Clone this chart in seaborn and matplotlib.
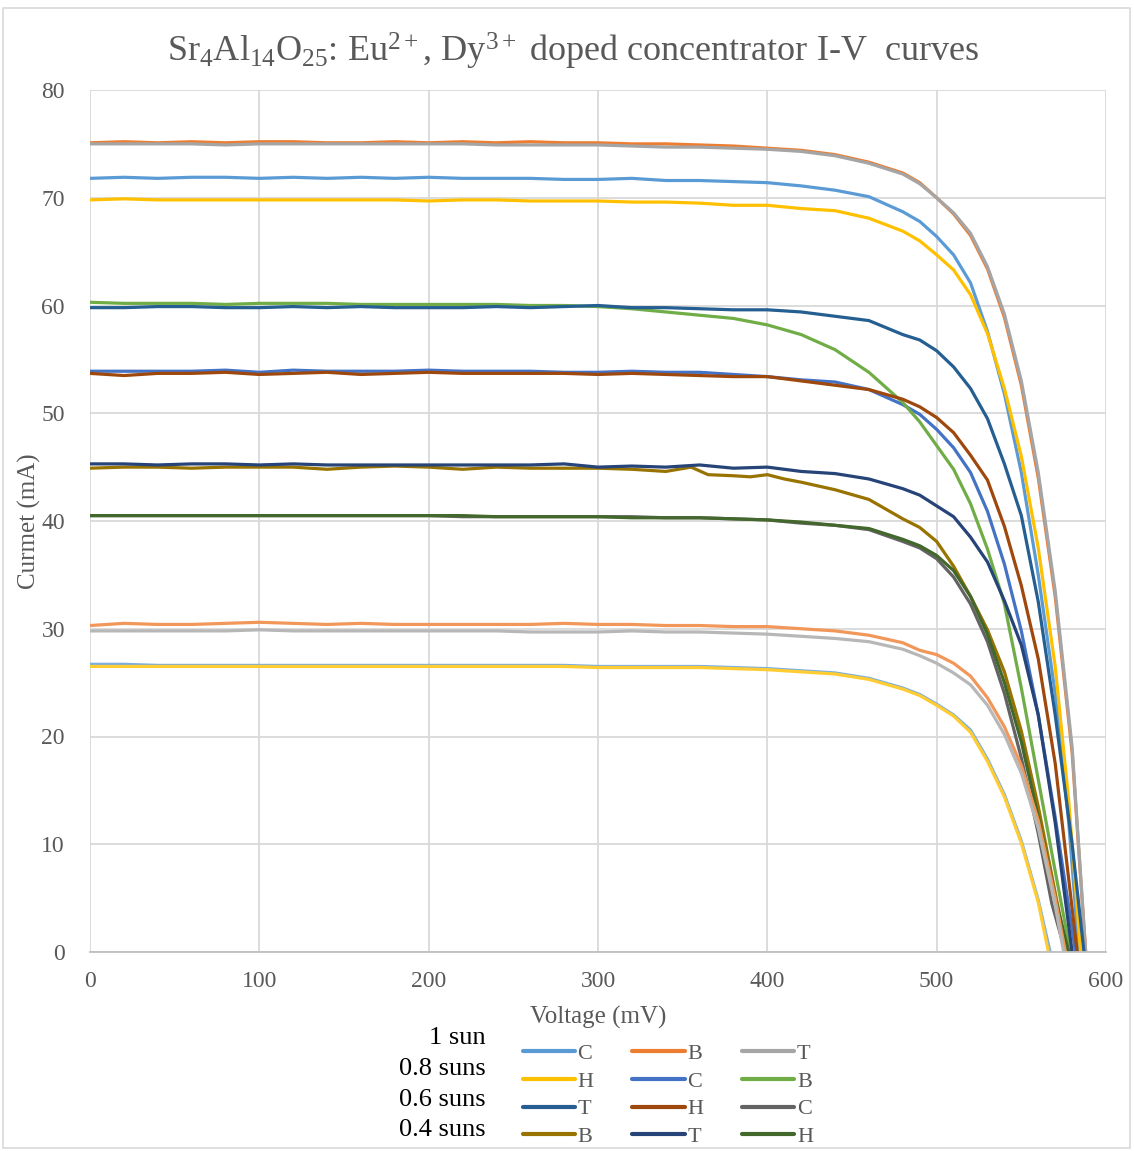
import matplotlib
matplotlib.use("Agg")
import matplotlib.pyplot as plt
from matplotlib.lines import Line2D
from matplotlib.patches import Rectangle
import pandas as pd
import seaborn as sns

sns.set_theme(style="white")
plt.rcParams["font.family"] = ["Liberation Serif", "DejaVu Serif"]
plt.rcParams["mathtext.fontset"] = "custom"
plt.rcParams["mathtext.rm"] = "Liberation Serif"
plt.rcParams["mathtext.it"] = "Liberation Serif:italic"

# Voltage grid (mV) for the flat part of every curve
V_FLAT = [0, 20, 40, 60, 80, 100, 120, 140, 160, 180, 200, 220, 240, 260, 280, 300, 320, 340]

# ---- 1 sun ----
i_flat_1C = [71.8, 71.9, 71.8, 71.9, 71.9, 71.8, 71.9, 71.8, 71.9, 71.8, 71.9, 71.8, 71.8, 71.8, 71.7, 71.7, 71.8, 71.6]
v_knee_1C = [360, 380, 400, 420, 440, 460, 480, 490, 500, 510, 520, 530, 540, 550, 560, 570, 578, 584]
i_knee_1C = [71.6, 71.5, 71.4, 71.1, 70.7, 70.1, 68.7, 67.8, 66.4, 64.7, 62.1, 57.6, 51.8, 44.5, 35.0, 24.0, 12.0, 0.0]

i_flat_1B = [75.1, 75.2, 75.1, 75.2, 75.1, 75.2, 75.2, 75.1, 75.1, 75.2, 75.1, 75.2, 75.1, 75.2, 75.1, 75.1, 75.0, 75.0]
v_knee_1B = [360, 380, 400, 420, 440, 460, 480, 490, 500, 510, 520, 530, 540, 550, 560, 570, 580, 588]
i_knee_1B = [74.9, 74.8, 74.6, 74.4, 74.0, 73.3, 72.3, 71.4, 70.0, 68.5, 66.5, 63.4, 58.9, 52.6, 44.0, 33.0, 18.5, 0.0]

i_flat_1T = [75.0, 75.0, 75.0, 75.0, 74.9, 75.0, 75.0, 75.0, 75.0, 75.0, 75.0, 75.0, 74.9, 74.9, 74.9, 74.9, 74.8, 74.7]
v_knee_1T = [360, 380, 400, 420, 440, 460, 480, 490, 500, 510, 520, 530, 540, 550, 560, 570, 580, 588]
i_knee_1T = [74.7, 74.6, 74.5, 74.3, 73.9, 73.2, 72.2, 71.3, 70.0, 68.6, 66.7, 63.6, 59.2, 53.0, 44.5, 33.5, 19.0, 0.0]

i_flat_1H = [69.8, 69.9, 69.8, 69.8, 69.8, 69.8, 69.8, 69.8, 69.8, 69.8, 69.7, 69.8, 69.8, 69.7, 69.7, 69.7, 69.6, 69.6]
v_knee_1H = [360, 380, 400, 420, 440, 460, 480, 490, 500, 510, 520, 530, 540, 550, 560, 570, 578, 585]
i_knee_1H = [69.5, 69.3, 69.3, 69.0, 68.8, 68.1, 66.9, 66.0, 64.7, 63.3, 61.0, 57.4, 52.3, 46.0, 37.5, 26.5, 14.0, 0.0]

# ---- 0.8 suns ----
i_flat_08C = [53.9, 53.9, 53.9, 53.9, 54.0, 53.8, 54.0, 53.9, 53.9, 53.9, 54.0, 53.9, 53.9, 53.9, 53.8, 53.8, 53.9, 53.8]
v_knee_08C = [360, 380, 400, 420, 440, 460, 480, 490, 500, 510, 520, 530, 540, 550, 560, 570, 582]
i_knee_08C = [53.8, 53.6, 53.4, 53.1, 52.9, 52.2, 50.8, 49.9, 48.5, 46.8, 44.5, 40.9, 36.0, 29.8, 22.0, 12.5, 0.0]

i_flat_08B = [60.3, 60.2, 60.2, 60.2, 60.1, 60.2, 60.2, 60.2, 60.1, 60.1, 60.1, 60.1, 60.1, 60.0, 60.0, 59.9, 59.7, 59.4]
v_knee_08B = [360, 380, 400, 420, 440, 460, 480, 490, 500, 510, 520, 530, 540, 550, 560, 570, 579]
i_knee_08B = [59.1, 58.8, 58.2, 57.3, 55.9, 53.8, 51.0, 49.2, 47.0, 44.8, 41.6, 37.4, 32.3, 24.5, 16.0, 7.5, 0.0]

i_flat_08T = [59.8, 59.8, 59.9, 59.9, 59.8, 59.8, 59.9, 59.8, 59.9, 59.8, 59.8, 59.8, 59.9, 59.8, 59.9, 60.0, 59.8, 59.8]
v_knee_08T = [360, 380, 400, 420, 440, 460, 480, 490, 500, 510, 520, 530, 540, 550, 560, 570, 580, 587]
i_knee_08T = [59.7, 59.6, 59.6, 59.4, 59.0, 58.6, 57.3, 56.8, 55.8, 54.3, 52.3, 49.5, 45.3, 40.5, 32.5, 22.0, 10.0, 0.0]

i_flat_08H = [53.7, 53.5, 53.7, 53.7, 53.8, 53.6, 53.7, 53.8, 53.6, 53.7, 53.8, 53.7, 53.7, 53.7, 53.7, 53.6, 53.7, 53.6]
v_knee_08H = [360, 380, 400, 420, 440, 460, 480, 490, 500, 510, 520, 530, 540, 550, 560, 570, 583]
i_knee_08H = [53.5, 53.4, 53.4, 53.0, 52.6, 52.2, 51.3, 50.6, 49.6, 48.2, 46.1, 43.8, 39.5, 34.0, 27.2, 17.5, 0.0]

# ---- 0.6 suns ----
i_flat_06C = [40.5, 40.5, 40.5, 40.5, 40.5, 40.5, 40.5, 40.5, 40.5, 40.5, 40.5, 40.4, 40.4, 40.4, 40.4, 40.4, 40.4, 40.3]
v_knee_06C = [360, 380, 400, 420, 440, 460, 480, 490, 500, 510, 520, 530, 540, 550, 560, 568, 576]
i_knee_06C = [40.3, 40.2, 40.1, 39.8, 39.6, 39.2, 38.1, 37.5, 36.5, 34.8, 32.3, 28.8, 24.0, 18.0, 11.0, 4.5, 0.0]

i_flat_06B = [44.9, 45.0, 45.0, 44.9, 45.0, 45.0, 45.0, 44.8, 45.0, 45.1, 45.0, 44.8, 45.0, 44.9, 44.9, 44.9, 44.8, 44.6]
v_knee_06B = [355, 365, 380, 390, 400, 410, 420, 440, 460, 480, 490, 500, 510, 520, 530, 540, 550, 560, 570, 577]
i_knee_06B = [45.0, 44.3, 44.2, 44.1, 44.3, 43.9, 43.6, 42.9, 42.0, 40.2, 39.4, 38.1, 35.8, 33.0, 29.9, 26.0, 20.5, 13.5, 5.5, 0.0]

i_flat_06T = [45.3, 45.3, 45.2, 45.3, 45.3, 45.2, 45.3, 45.2, 45.2, 45.2, 45.2, 45.2, 45.2, 45.2, 45.3, 45.0, 45.1, 45.0]
v_knee_06T = [360, 380, 400, 420, 440, 460, 480, 490, 500, 510, 520, 530, 540, 550, 560, 570, 580]
i_knee_06T = [45.2, 44.9, 45.0, 44.6, 44.4, 43.9, 43.0, 42.4, 41.4, 40.4, 38.5, 36.2, 32.6, 28.5, 22.0, 12.0, 0.0]

i_flat_06H = [40.5, 40.5, 40.5, 40.5, 40.5, 40.5, 40.5, 40.5, 40.5, 40.5, 40.5, 40.5, 40.4, 40.4, 40.4, 40.4, 40.3, 40.3]
v_knee_06H = [360, 380, 400, 420, 440, 460, 480, 490, 500, 510, 520, 530, 540, 550, 560, 570, 578]
i_knee_06H = [40.3, 40.2, 40.1, 39.9, 39.6, 39.3, 38.3, 37.7, 36.8, 35.4, 33.0, 29.5, 25.0, 19.5, 12.5, 5.0, 0.0]

# ---- 0.2 suns ----
i_flat_02C = [26.7, 26.7, 26.6, 26.6, 26.6, 26.6, 26.6, 26.6, 26.6, 26.6, 26.6, 26.6, 26.6, 26.6, 26.6, 26.5, 26.5, 26.5]
v_knee_02C = [360, 380, 400, 420, 440, 460, 480, 490, 500, 510, 520, 530, 540, 550, 560, 567]
i_knee_02C = [26.5, 26.4, 26.3, 26.1, 25.9, 25.4, 24.5, 23.9, 23.0, 22.0, 20.6, 17.9, 14.6, 10.3, 4.8, 0.0]

i_flat_02B = [30.3, 30.5, 30.4, 30.4, 30.5, 30.6, 30.5, 30.4, 30.5, 30.4, 30.4, 30.4, 30.4, 30.4, 30.5, 30.4, 30.4, 30.3]
v_knee_02B = [360, 380, 400, 420, 440, 460, 480, 490, 500, 510, 520, 530, 540, 550, 560, 570, 576]
i_knee_02B = [30.3, 30.2, 30.2, 30.0, 29.8, 29.4, 28.7, 28.0, 27.6, 26.8, 25.6, 23.6, 20.9, 17.3, 12.2, 5.0, 0.0]

i_flat_02T = [29.8, 29.8, 29.8, 29.8, 29.8, 29.9, 29.8, 29.8, 29.8, 29.8, 29.8, 29.8, 29.8, 29.7, 29.7, 29.7, 29.8, 29.7]
v_knee_02T = [360, 380, 400, 420, 440, 460, 480, 490, 500, 510, 520, 530, 540, 550, 560, 570, 575]
i_knee_02T = [29.7, 29.6, 29.5, 29.3, 29.1, 28.8, 28.1, 27.5, 26.8, 25.9, 24.8, 22.9, 20.2, 16.6, 11.5, 4.3, 0.0]

i_flat_02H = [26.5, 26.5, 26.5, 26.5, 26.5, 26.5, 26.5, 26.5, 26.5, 26.5, 26.5, 26.5, 26.5, 26.5, 26.5, 26.4, 26.4, 26.4]
v_knee_02H = [360, 380, 400, 420, 440, 460, 480, 490, 500, 510, 520, 530, 540, 550, 560, 566]
i_knee_02H = [26.4, 26.3, 26.2, 26.0, 25.8, 25.3, 24.4, 23.8, 22.9, 21.9, 20.4, 17.7, 14.4, 10.1, 4.6, 0.0]

# Series in plotting order: (key, legend label, colour, flat currents, knee voltages, knee currents)
SERIES = [
    ("1 sun C", "C", "#5B9BD5", i_flat_1C, v_knee_1C, i_knee_1C),
    ("1 sun B", "B", "#ED7D31", i_flat_1B, v_knee_1B, i_knee_1B),
    ("1 sun T", "T", "#A5A5A5", i_flat_1T, v_knee_1T, i_knee_1T),
    ("1 sun H", "H", "#FFC000", i_flat_1H, v_knee_1H, i_knee_1H),
    ("0.8 C", "C", "#4472C4", i_flat_08C, v_knee_08C, i_knee_08C),
    ("0.8 B", "B", "#70AD47", i_flat_08B, v_knee_08B, i_knee_08B),
    ("0.8 T", "T", "#255E91", i_flat_08T, v_knee_08T, i_knee_08T),
    ("0.8 H", "H", "#9E480E", i_flat_08H, v_knee_08H, i_knee_08H),
    ("0.6 C", "C", "#636363", i_flat_06C, v_knee_06C, i_knee_06C),
    ("0.6 B", "B", "#997300", i_flat_06B, v_knee_06B, i_knee_06B),
    ("0.6 T", "T", "#264478", i_flat_06T, v_knee_06T, i_knee_06T),
    ("0.6 H", "H", "#43682B", i_flat_06H, v_knee_06H, i_knee_06H),
    ("0.2 C", "C", "#7CAFDD", i_flat_02C, v_knee_02C, i_knee_02C),
    ("0.2 B", "B", "#F1975A", i_flat_02B, v_knee_02B, i_knee_02B),
    ("0.2 T", "T", "#B7B7B7", i_flat_02T, v_knee_02T, i_knee_02T),
    ("0.2 H", "H", "#FFCD33", i_flat_02H, v_knee_02H, i_knee_02H),
]

rows = []
for key, _, _, i_flat, v_knee, i_knee in SERIES:
    for v, i in zip(V_FLAT + v_knee, i_flat + i_knee):
        rows.append({"series": key, "Voltage": v, "Current": i})
df = pd.DataFrame(rows)
palette = {s[0]: s[2] for s in SERIES}

W, H, DPI = 1134, 1151, 100
fig = plt.figure(figsize=(W / DPI, H / DPI), dpi=DPI)
ax = fig.add_axes([90 / W, 1 - 952 / H, (1106 - 90) / W, (952 - 90) / H])

sns.lineplot(data=df, x="Voltage", y="Current", hue="series", hue_order=[s[0] for s in SERIES],
             palette=palette, sort=False, estimator=None, linewidth=2.3, legend=False, ax=ax)

ax.set_xlim(0, 600)
ax.set_ylim(0, 80)
ax.set_xticks(range(0, 601, 100))
ax.set_yticks(range(0, 81, 10))
ax.grid(True, color="#D9D9D9", linewidth=1.3)
ax.set_axisbelow(True)
for side in ["top", "right", "left"]:
    ax.spines[side].set_visible(False)
ax.spines["bottom"].set_color("#BFBFBF")
ax.spines["bottom"].set_linewidth(1.3)
ax.tick_params(axis="both", length=0, labelsize=17, labelcolor="#595959")
ax.tick_params(axis="y", pad=18)
ax.tick_params(axis="x", pad=14)
ax.set_xlabel("Voltage (mV)", fontsize=18, color="#595959", labelpad=10)
ax.set_ylabel("Curmet (mA)", fontsize=18, color="#595959", labelpad=0)

fig.text(573 / W, 1 - 51 / H,
         r"Sr$_{4}$Al$_{14}$O$_{25}$: Eu$^{2+}$, Dy$^{3+}$ doped concentrator I-V  curves",
         ha="center", va="center", fontsize=26, color="#595959")

# Legend: rows filled left to right, three entries per row
lines = ax.get_lines()[:12]
labels = [s[1] for s in SERIES[:12]]
order = [0, 3, 6, 9, 1, 4, 7, 10, 2, 5, 8, 11]
handles = [Line2D([], [], color=lines[k].get_color(), linewidth=3) for k in order]
leg = fig.legend(handles, [labels[k] for k in order], ncol=3, loc="upper left",
                 bbox_to_anchor=(507 / W, 1 - 1028 / H), frameon=False, fontsize=16,
                 handlelength=2.35, handletextpad=0.12, columnspacing=1.75, labelspacing=0.32,
                 borderpad=0.2)
for t in leg.get_texts():
    t.set_color("#595959")

for label, y in zip(["1 sun", "0.8 suns", "0.6 suns", "0.4 suns"], [1038, 1069, 1100, 1130]):
    fig.text(486 / W, 1 - y / H, label, ha="right", va="center", fontsize=19, color="black")

fig.patches.append(Rectangle((3 / W, 3 / H), 1127 / W, 1140 / H, transform=fig.transFigure,
                             fill=False, edgecolor="#D9D9D9", linewidth=1.2))

fig.savefig("out.png", dpi=DPI, facecolor="white")
